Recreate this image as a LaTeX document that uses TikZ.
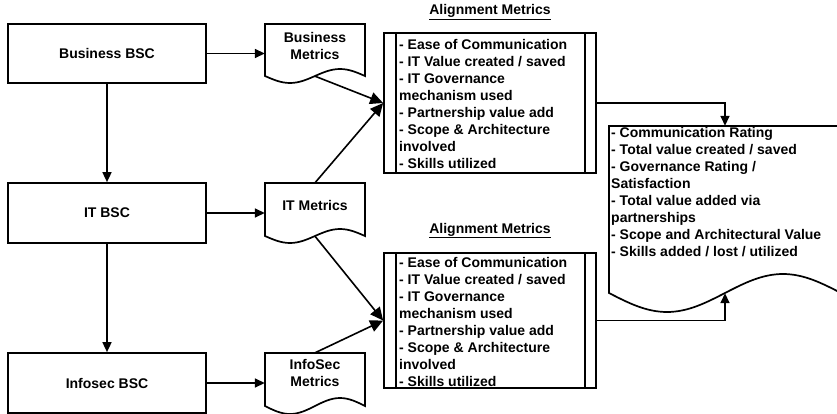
\documentclass[tikz,border=0pt]{standalone}
\usepackage{fontspec}
\setmainfont{Liberation Sans}
\usetikzlibrary{arrows.meta}
\newcommand{\mydocpath}[5]{%
  \draw[shapeline] (#1,#4) -- (#1,#2) -- (#3,#2) -- (#3,#4)
    sin ({#3-(#3-#1)*0.25},{#4-#5}) cos ({(#1+#3)/2},#4)
    sin ({#1+(#3-#1)*0.25},{#4+#5}) cos (#1,#4) -- cycle;}
\begin{document}
\begin{tikzpicture}[x=1pt,y=-1pt,
  every node/.style={font=\bfseries\fontsize{14}{17}\selectfont},
  shapeline/.style={line width=1.7pt},
  bscbox/.style={draw,line width=1.7pt,minimum width=198pt,inner sep=0pt},
  docbox/.style={minimum width=100pt,inner sep=0pt},
  almbox/.style={draw,line width=1.7pt,minimum width=212pt,inner sep=0pt},
  listtext/.style={anchor=north west,align=left,inner sep=0pt},
  arr/.style={line width=1.6pt,-{Triangle[length=10pt,width=9pt]}},
  bigarr/.style={line width=1.6pt,-{Triangle[length=13pt,width=12pt]}},
  ttl/.style={anchor=base,inner sep=0pt}]
\useasboundingbox (0,0) rectangle (837,414);
\clip (0,0) rectangle (837,414);
% BSC boxes
\node[bscbox,minimum height=59pt] (bsc) at (107,53.5) {Business BSC};
\node[bscbox,minimum height=60pt] (itbsc) at (107,213) {IT BSC};
\node[bscbox,minimum height=60pt] (isbsc) at (107,383) {Infosec BSC};
% document shapes
\node[docbox,minimum height=52pt] (bm) at (315,50) {};
\mydocpath{265}{24}{365}{76}{7}
\node[align=center,inner sep=0pt] (bmt) at (315,45.5) {Business\\Metrics};
\node[docbox,minimum height=53pt] (itm) at (315,209.5) {};
\mydocpath{265}{183}{365}{236}{7}
\node[inner sep=0pt] (itmt) at (315,205) {IT Metrics};
\node[docbox,minimum height=53pt] (ism) at (315,379.5) {};
\mydocpath{265}{353}{365}{406}{8}
\node[align=center,inner sep=0pt] (ismt) at (315,372.5) {InfoSec\\Metrics};
% alignment boxes
\node[ttl] (ttl1) at (490,14.5) {\underline{Alignment Metrics}};
\node[almbox,minimum height=140pt] (al1) at (490,103) {};
\draw[shapeline] ([xshift=13pt]al1.north west) -- ([xshift=13pt]al1.south west);
\draw[shapeline] ([xshift=-12pt]al1.north east) -- ([xshift=-12pt]al1.south east);
\node[listtext] (al1t) at (399,39) {- Ease of Communication\\- IT Value created / saved\\- IT Governance\\mechanism used\\- Partnership value add\\- Scope \& Architecture\\involved\\- Skills utilized};
\node[ttl] (ttl2) at (490,233) {\underline{Alignment Metrics}};
\node[almbox,minimum height=135pt] (al2) at (490,320.5) {};
\draw[shapeline] ([xshift=13pt]al2.north west) -- ([xshift=13pt]al2.south west);
\draw[shapeline] ([xshift=-12pt]al2.north east) -- ([xshift=-12pt]al2.south east);
\node[listtext] (al2t) at (399,257) {- Ease of Communication\\- IT Value created / saved\\- IT Governance\\mechanism used\\- Partnership value add\\- Scope \& Architecture\\involved\\- Skills utilized};
% result document
\node[minimum width=232pt,minimum height=167pt,inner sep=0pt] (rd) at (725,209.5) {};
\mydocpath{609}{126}{841}{293}{19}
\node[listtext] (rdt) at (611,127.5) {- Communication Rating\\- Total value created / saved\\- Governance Rating /\\Satisfaction\\- Total value added via\\partnerships\\- Scope and Architectural Value\\- Skills added / lost / utilized};
% connectors
\draw[arr] (bsc.east) -- (bsc.east -| bm.west);
\draw[arr] (itbsc.east) -- (itbsc.east -| itm.west);
\draw[arr] (isbsc.east) -- (isbsc.east -| ism.west);
\draw[arr] (bsc.south) -- (itbsc.north);
\draw[arr] (itbsc.south) -- (isbsc.north);
\draw[bigarr] (bm.south) -- (al1.west);
\draw[bigarr] (itm.north) -- (al1.west);
\draw[bigarr] (itm.south) -- (al2.west);
\draw[bigarr] (ism.north) -- (al2.west);
\draw[arr] (al1.east) -| (rd.north);
\draw[arr] (al2.east) -| (rd.south);
\end{tikzpicture}
\end{document}
